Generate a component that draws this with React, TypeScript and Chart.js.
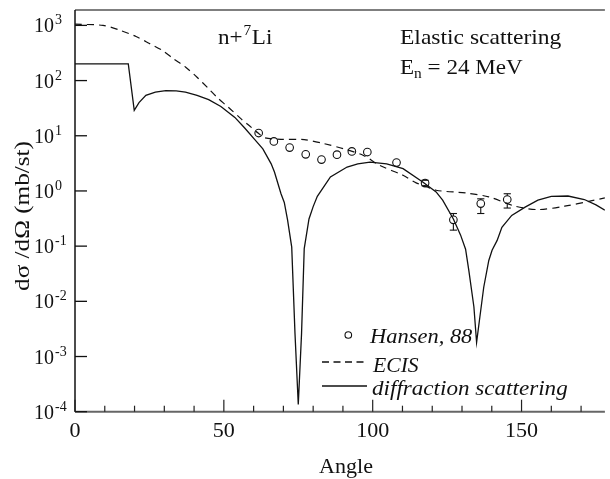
import React, { useEffect, useRef } from 'react';
import { Chart, registerables } from 'chart.js';

Chart.register(...registerables);

// ---- data ----
const diffAngle = [0, 17.9, 19.9, 21.5, 23.8, 27, 30.5, 34, 37.1, 41, 44.9, 49, 53.7, 57, 60.4, 63.1, 65.9, 67.0, 69.2, 70.3, 71.4, 72.8, 73.9, 75.0, 76.1, 77.0, 78.6, 80.0, 81.4, 85.8, 91.4, 95, 99.1, 104.7, 110.2, 116.8, 121.3, 123.5, 127.1, 129.5, 131.2, 132.3, 134.0, 134.9, 136.0, 137.3, 139.0, 140.1, 141.8, 143.4, 146.7, 151.2, 155.5, 160.0, 165.6, 171.1, 175, 178];
const diffValue = [200, 200, 29, 40, 54, 62, 66, 65, 62, 54, 45, 34, 21.5, 13.8, 8.5, 5.8, 3.1, 2.2, 0.89, 0.62, 0.3, 0.096, 0.0026, 0.000135, 0.0026, 0.09, 0.31, 0.52, 0.8, 1.79, 2.71, 3.1, 3.34, 3.1, 2.53, 1.45, 0.96, 0.68, 0.31, 0.16, 0.088, 0.036, 0.0079, 0.0018, 0.0052, 0.018, 0.055, 0.084, 0.127, 0.22, 0.36, 0.51, 0.68, 0.80, 0.81, 0.70, 0.56, 0.45];

const ecisAngle = [0, 9.4, 15, 20.5, 25, 29.3, 33, 37.1, 41, 44.9, 48, 51.5, 55.9, 58.1, 61.5, 63.7, 69.2, 77.0, 83.6, 90.3, 96.9, 102.4, 110.2, 114.6, 116.8, 121.3, 131.2, 139.0, 147.8, 155.6, 164.5, 173.3, 178];
const ecisValue = [1050, 1000, 820, 630, 470, 353, 250, 176, 115, 71, 48, 33, 20, 16, 11.2, 9.2, 8.6, 8.5, 7.2, 5.8, 4.4, 2.9, 1.92, 1.4, 1.28, 1.03, 0.92, 0.78, 0.53, 0.46, 0.53, 0.66, 0.75];

const hansenAngle = [61.7, 66.8, 72.1, 77.5, 82.8, 88.0, 93.0, 98.2, 108.0, 117.6, 127.1, 136.3, 145.2];
const hansenValue = [11.2, 7.9, 6.1, 4.6, 3.7, 4.55, 5.2, 5.07, 3.26, 1.39, 0.30, 0.59, 0.70];
const hansenLow: (number | null)[] = [null, null, null, null, null, null, null, null, null, 1.24, 0.195, 0.39, 0.49];
const hansenHigh: (number | null)[] = [null, null, null, null, null, null, null, null, null, 1.56, 0.39, 0.72, 0.89];

const xMajorTicks = [0, 50, 100, 150];
const xMinorTicks = [10, 20, 30, 40, 60, 70, 80, 90, 110, 120, 130, 140, 160, 170];
const yDecades = [-4, -3, -2, -1, 0, 1, 2, 3];

const X_MIN = 0;
const X_MAX = 178;
const Y_MIN = 1e-4;
const Y_MAX = 1900;

const SERIF = "'Liberation Serif', 'Times New Roman', serif";

function txt(ctx: CanvasRenderingContext2D, s: string, x: number, y: number, size: number, opts: { italic?: boolean; align?: CanvasTextAlign; sx?: number; rot?: number } = {}) {
  ctx.save();
  ctx.font = `${opts.italic ? 'italic ' : ''}${size}px ${SERIF}`;
  ctx.textAlign = opts.align || 'left';
  ctx.textBaseline = 'alphabetic';
  ctx.fillStyle = '#111';
  ctx.translate(x, y);
  if (opts.rot) ctx.rotate(opts.rot);
  ctx.scale(opts.sx || 1, 1);
  ctx.fillText(s, 0, 0);
  const w = ctx.measureText(s).width * (opts.sx || 1);
  ctx.restore();
  return w;
}

function seg(ctx: CanvasRenderingContext2D, x1: number, y1: number, x2: number, y2: number) {
  ctx.beginPath();
  ctx.moveTo(x1, y1);
  ctx.lineTo(x2, y2);
  ctx.stroke();
}

const errorBarPlugin = {
  id: 'errorBars',
  afterDatasetsDraw(chart: any) {
    const { ctx, scales } = chart;
    const x = scales.x, y = scales.y;
    ctx.save();
    ctx.strokeStyle = '#111';
    ctx.lineWidth = 1.1;
    hansenAngle.forEach((a, i) => {
      const lo = hansenLow[i], hi = hansenHigh[i];
      if (lo == null || hi == null) return;
      const px = x.getPixelForValue(a);
      const pl = y.getPixelForValue(lo), ph = y.getPixelForValue(hi);
      const pc = y.getPixelForValue(hansenValue[i]);
      seg(ctx, px, ph, px, pc - 3.8);
      seg(ctx, px, pc + 3.8, px, pl);
      seg(ctx, px - 3.6, ph, px + 3.6, ph);
      seg(ctx, px - 3.6, pl, px + 3.6, pl);
    });
    ctx.restore();
  },
};

const framePlugin = {
  id: 'frame',
  afterDraw(chart: any) {
    const { ctx, chartArea: a, scales } = chart;
    const x = scales.x, y = scales.y;
    ctx.save();
    ctx.lineCap = 'butt';
    // top frame
    ctx.strokeStyle = '#555';
    ctx.lineWidth = 1.5;
    seg(ctx, a.left, a.top, a.right, a.top);
    // bottom axis
    ctx.strokeStyle = '#666';
    ctx.lineWidth = 2;
    seg(ctx, a.left, a.bottom, a.right, a.bottom);
    // left axis
    ctx.strokeStyle = '#111';
    ctx.lineWidth = 1.5;
    seg(ctx, a.left, a.top, a.left, a.bottom);

    // y ticks and labels
    ctx.lineWidth = 1.3;
    yDecades.forEach((d) => {
      const py = y.getPixelForValue(Math.pow(10, d));
      ctx.strokeStyle = '#111';
      seg(ctx, a.left, py, a.left + 12, py);
      const w = txt(ctx, '10', 34, py + 7, 20);
      txt(ctx, String(d), 34 + w + 1, py - 1, 14);
    });

    // x ticks and labels
    ctx.strokeStyle = '#222';
    ctx.lineWidth = 1.2;
    xMajorTicks.forEach((v) => {
      const px = x.getPixelForValue(v);
      seg(ctx, px, a.bottom, px, a.bottom - 12);
      txt(ctx, String(v), px, 437, 21, { align: 'center', sx: 1.05 });
    });
    xMinorTicks.forEach((v) => {
      const px = x.getPixelForValue(v);
      seg(ctx, px, a.bottom, px, a.bottom - 6);
    });

    // axis titles
    txt(ctx, 'Angle', 346, 473, 21, { align: 'center', sx: 1.05 });
    txt(ctx, 'dσ /dΩ (mb/st)', 29, 216, 21, { align: 'center', rot: -Math.PI / 2, sx: 1.2 });

    // annotations
    let cx = 218;
    cx += txt(ctx, 'n+', cx, 44, 21, { sx: 1.1 });
    cx += txt(ctx, '7', cx + 1, 35, 14, { sx: 1.1 }) + 1.5;
    txt(ctx, 'Li', cx, 44, 21, { sx: 1.1 });

    txt(ctx, 'Elastic scattering', 400, 43.5, 21, { sx: 1.12 });
    let ex = 400;
    ex += txt(ctx, 'E', ex, 74, 21, { sx: 1.1 });
    ex += txt(ctx, 'n', ex, 78, 14, { sx: 1.1 });
    txt(ctx, ' = 24 MeV', ex, 74, 21, { sx: 1.1 });

    // legend
    ctx.strokeStyle = '#111';
    ctx.lineWidth = 1.1;
    ctx.beginPath();
    ctx.arc(348.3, 335, 3.3, 0, Math.PI * 2);
    ctx.stroke();
    txt(ctx, 'Hansen, 88', 370, 343, 21, { italic: true, sx: 1.07 });

    ctx.lineWidth = 1.3;
    ctx.setLineDash([7, 4.5]);
    seg(ctx, 322, 362, 364, 362);
    ctx.setLineDash([]);
    txt(ctx, 'ECIS', 373, 371.7, 21, { italic: true, sx: 1.03 });

    seg(ctx, 322, 386, 367, 386);
    txt(ctx, 'diffraction scattering', 372, 395, 21, { italic: true, sx: 1.1 });

    ctx.restore();
  },
};

export default function App() {
  const ref = useRef<HTMLCanvasElement | null>(null);

  useEffect(() => {
    document.body.style.margin = '0';
    const canvas = ref.current;
    if (!canvas) return;
    const chart = new Chart(canvas, {
      type: 'line',
      data: {
        datasets: [
          {
            label: 'Hansen, 88',
            data: hansenAngle.map((a, i) => ({ x: a, y: hansenValue[i] })),
            showLine: false,
            pointStyle: 'circle',
            pointRadius: 3.8,
            pointBorderWidth: 1.1,
            pointBorderColor: '#111',
            pointBackgroundColor: 'rgba(0,0,0,0)',
          },
          {
            label: 'ECIS',
            data: ecisAngle.map((a, i) => ({ x: a, y: ecisValue[i] })),
            borderColor: '#111',
            borderWidth: 1.2,
            borderDash: [7, 5],
            pointRadius: 0,
            tension: 0.3,
            fill: false,
          },
          {
            label: 'diffraction scattering',
            data: diffAngle.map((a, i) => ({ x: a, y: diffValue[i] })),
            borderColor: '#111',
            borderWidth: 1.3,
            pointRadius: 0,
            tension: 0,
            fill: false,
          },
        ],
      },
      options: {
        animation: false,
        responsive: false,
        devicePixelRatio: 1,
        layout: { padding: { left: 75, top: 10, right: 0, bottom: 67.3 } },
        plugins: { legend: { display: false }, tooltip: { enabled: false } },
        scales: {
          x: { type: 'linear', min: X_MIN, max: X_MAX, display: false },
          y: { type: 'logarithmic', min: Y_MIN, max: Y_MAX, display: false },
        },
      },
      plugins: [errorBarPlugin, framePlugin],
    });
    return () => chart.destroy();
  }, []);

  return (
    <div style={{ width: 610, height: 479, background: '#fff' }}>
      <canvas ref={ref} width={610} height={479} style={{ display: 'block' }} />
    </div>
  );
}
